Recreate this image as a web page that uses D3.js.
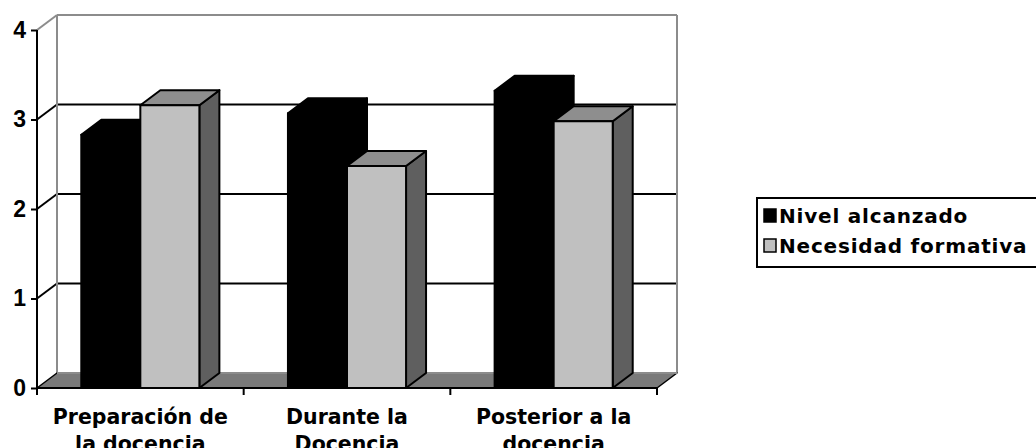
<!DOCTYPE html>
<html>
<head>
<meta charset="utf-8">
<script src="https://cdn.jsdelivr.net/npm/d3@7"></script>
<style>
  html, body { margin: 0; padding: 0; background: #fff; }
  svg { display: block; }
</style>
</head>
<body>
<svg id="chart" width="1036" height="448"></svg>
<script>
// Chart data
const categories = [["Preparación de", "la docencia"], ["Durante la", "Docencia"], ["Posterior a la", "docencia"]];
const seriesNames = ["Nivel alcanzado", "Necesidad formativa"];
const nivelAlcanzado = [2.83, 3.07, 3.32];
const necesidadFormativa = [3.16, 2.48, 2.98];
const yTicks = [0, 1, 2, 3, 4];

const seriesValues = [nivelAlcanzado, necesidadFormativa];
const catKeys = categories.map(c => c.join(" "));

// 3D depth offset of the back wall
const DX = 20, DY = 15;
const front = { left: 37, right: 657, bottom: 388, top: 30 };

const svg = d3.select("#chart");

const y = d3.scaleLinear().domain([0, 4]).range([front.bottom, front.top]);
const x0 = d3.scaleBand().domain(catKeys).range([front.left, front.right]);
const x1 = d3.scaleBand().domain(seriesNames).range([0, x0.bandwidth()])
  .paddingInner(0).paddingOuter(0.75);

const style = [
  { front: "#000000", top: "#000000", side: "#000000" },
  { front: "#c0c0c0", top: "#8e8e8e", side: "#5f5f5f" }
];

const pts = a => a.map(p => p.join(",")).join(" ");

// Back wall
const wallL = front.left + DX, wallR = front.right + DX;
const wallTop = y(4) - DY, wallBottom = y(0) - DY;
svg.append("rect")
  .attr("x", wallL).attr("y", wallTop)
  .attr("width", wallR - wallL).attr("height", wallBottom - wallTop)
  .attr("fill", "#fff");

// Gridlines: diagonal on the side wall, horizontal on the back wall
const grid = svg.append("g");
yTicks.filter(t => t > 0).forEach(t => {
  const col = t === 4 ? "#8c8c8c" : "#000";
  const yy = y(t);
  grid.append("line")
    .attr("x1", front.left).attr("y1", yy)
    .attr("x2", wallL).attr("y2", yy - DY)
    .attr("stroke", col).attr("stroke-width", 2);
  grid.append("line")
    .attr("x1", wallL).attr("y1", yy - DY)
    .attr("x2", wallR).attr("y2", yy - DY)
    .attr("stroke", col).attr("stroke-width", 2.2);
});
// Wall edges
svg.append("line")
  .attr("x1", wallL).attr("y1", wallTop).attr("x2", wallL).attr("y2", wallBottom)
  .attr("stroke", "#8c8c8c").attr("stroke-width", 2);
svg.append("line")
  .attr("x1", wallR).attr("y1", wallTop).attr("x2", wallR).attr("y2", wallBottom)
  .attr("stroke", "#8c8c8c").attr("stroke-width", 2);

// Floor
svg.append("polygon")
  .attr("points", pts([[front.left, y(0)], [wallL, y(0) - DY], [wallR, y(0) - DY], [front.right, y(0)]]))
  .attr("fill", "#7a7a7a").attr("stroke", "#000").attr("stroke-width", 1.5)
  .attr("stroke-linejoin", "round");
svg.append("line")
  .attr("x1", wallL).attr("y1", y(0) - DY).attr("x2", wallR).attr("y2", y(0) - DY)
  .attr("stroke", "#8c8c8c").attr("stroke-width", 2);

// Bars
const bars = svg.append("g");
catKeys.forEach((cat, ci) => {
  seriesNames.forEach((s, si) => {
    const v = seriesValues[si][ci];
    const xl = x0(cat) + x1(s), xr = xl + x1.bandwidth();
    const yt = y(v), yb = y(0);
    const st = style[si];
    const g = bars.append("g")
      .attr("stroke", "#000").attr("stroke-width", 2).attr("stroke-linejoin", "round");
    g.append("polygon") // side
      .attr("points", pts([[xr, yt], [xr + DX, yt - DY], [xr + DX, yb - DY], [xr, yb]]))
      .attr("fill", st.side);
    g.append("polygon") // top
      .attr("points", pts([[xl, yt], [xl + DX, yt - DY], [xr + DX, yt - DY], [xr, yt]]))
      .attr("fill", st.top);
    g.append("rect") // front
      .attr("x", xl).attr("y", yt).attr("width", xr - xl).attr("height", yb - yt)
      .attr("fill", st.front);
  });
});

// Y axis
const yAxis = svg.append("g")
  .attr("transform", `translate(${front.left},0)`)
  .call(d3.axisLeft(y).tickValues(yTicks).tickFormat(d3.format("d")).tickSize(6).tickPadding(5));
yAxis.select(".domain").attr("stroke", "#000").attr("stroke-width", 2).attr("d", `M0,${y(0)}V${y(4)}`);
yAxis.selectAll(".tick line").attr("stroke", "#000").attr("stroke-width", 2);
yAxis.selectAll(".tick text")
  .attr("font-family", "'Liberation Sans', Arial, sans-serif")
  .attr("font-weight", "bold").attr("font-size", 23).attr("fill", "#000");

// X axis
const xAxis = svg.append("g")
  .attr("transform", `translate(0,${front.bottom})`)
  .call(d3.axisBottom(x0).tickSize(0).tickFormat(""));
xAxis.select(".domain").attr("stroke", "#000").attr("stroke-width", 2)
  .attr("d", `M${front.left},0H${front.right}`);
xAxis.selectAll(".tick").remove();
const bounds = catKeys.map(c => x0(c)).concat([front.right]);
xAxis.selectAll("line.sep").data(bounds).join("line")
  .attr("class", "sep")
  .attr("x1", d => d).attr("x2", d => d).attr("y1", 0).attr("y2", 7)
  .attr("stroke", "#000").attr("stroke-width", 2);

const labels = svg.append("g")
  .attr("font-family", "'DejaVu Sans', Verdana, sans-serif")
  .attr("font-weight", "bold").attr("font-size", 20.5).attr("fill", "#000")
  .attr("text-anchor", "middle");
categories.forEach((lines, ci) => {
  const t = labels.append("text")
    .attr("x", x0(catKeys[ci]) + x0.bandwidth() / 2)
    .attr("y", 424);
  lines.forEach((ln, li) => {
    t.append("tspan").attr("x", x0(catKeys[ci]) + x0.bandwidth() / 2)
      .attr("dy", li === 0 ? 0 : 27).text(ln);
  });
});

// Legend
const legend = svg.append("g");
legend.append("rect")
  .attr("x", 757).attr("y", 198).attr("width", 300).attr("height", 69)
  .attr("fill", "#fff").attr("stroke", "#000").attr("stroke-width", 2);
const fills = [style[0].front, style[1].front];
seriesNames.forEach((s, i) => {
  const row = legend.append("g").attr("transform", `translate(764,${209 + i * 30})`);
  row.append("rect").attr("x", 0).attr("y", 0).attr("width", 12).attr("height", 13)
    .attr("fill", fills[i]).attr("stroke", "#000").attr("stroke-width", 1.5);
  row.append("text").attr("x", 15).attr("y", 14)
    .attr("font-family", "'DejaVu Sans', Verdana, sans-serif")
    .attr("font-weight", "bold").attr("font-size", 20).attr("letter-spacing", 0.8)
    .attr("fill", "#000")
    .text(s);
});
</script>
</body>
</html>
